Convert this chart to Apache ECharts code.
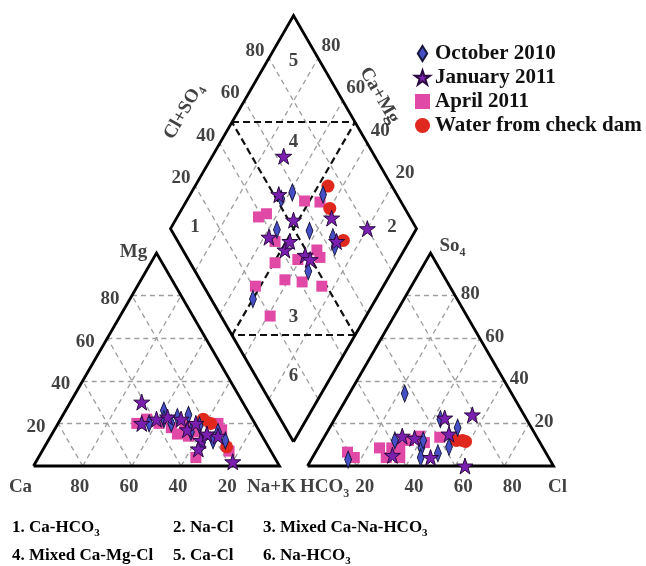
<!DOCTYPE html>
<html><head><meta charset="utf-8">
<script src="https://cdn.jsdelivr.net/npm/echarts/dist/echarts.min.js"></script>
<style>html,body{margin:0;padding:0;background:#fff}#c{width:646px;height:566px}</style>
</head><body><div id="c"></div>
<script>
// ---------------- DATA (percent values) ----------------
// Cation triangle: [Mg %, Na+K %]
const octoberCation = [[20,37],[26,40],[22,42],[23,47],[24,51],[16,56],[11,63],[12,67],[12,72],[19,58],[20,46],[16,67]];
const januaryCation = [[30,29],[20,34],[23,43],[22,49],[17,54],[20,56],[12,62],[8,63],[14,68],[2,80],[22,39],[15,63]];
const aprilCation   = [[20,32],[22,35],[18,47],[15,51],[14,56],[4,64],[20,65],[17,68],[7,76],[20,41],[16,58],[19,52]];
const damCation     = [[22,58],[20,62],[9,74]];
// Anion triangle: [SO4 %, Cl %]
const octoberAnion = [[34,22.5],[22,43],[18,52],[9,53],[6,50],[8.5,42],[4,44],[12,29.5],[3,15],[12,41]];
const januaryAnion = [[22.5,44.5],[24,55],[15,50],[14,31.5],[13,37],[5,32],[4,48],[0,64]];
const aprilAnion   = [[6.5,13],[4,17],[8.5,25],[4,30],[9,33],[4,35.5],[14,38.5],[11,42],[13.5,47],[12,35],[8.5,30]];
const damAnion     = [[12,54.5],[12,57],[11.5,58.5]];
// Diamond: [Cl+SO4 %, Ca+Mg %]
const octoberDiamond = [[52,62],[58,59],[70,46],[43,56.5],[56,43],[64,32],[62.5,29],[46,34],[17,50]];
const januaryDiamond = [[52,64],[63,71],[68,37],[52,52],[38,58],[80,20],[64.5,29.5],[41.5,48.5],[48.5,39],[49.5,36],[45.5,48.5]];
const aprilDiamond   = [[61,52],[67,45.5],[38.5,67],[42.5,64.5],[39.5,54.5],[54.5,35.5],[54,32.5],[44.5,41],[34.5,49.5],[34.5,41.5],[41,34],[48,25],[21,52],[20,39]];
const damDiamond     = [[74,46],[69.5,40],[67.5,27]];

const seriesNames = ['October 2010','January 2011','April 2011','Water from check dam'];
const tickValues = [20,40,60,80];
const regionNames = ['1','2','3','4','5','6'];
const regionCentres = [[10,90],[90,10],[29,29],[70,70],[89,89],[15,15]]; // [Cl+SO4, Ca+Mg]
const footnoteRow1 = ['1. Ca-HCO{s|3}','2. Na-Cl','3. Mixed Ca-Na-HCO{s|3}'];
const footnoteRow2 = ['4. Mixed Ca-Mg-Cl','5. Ca-Cl','6. Na-HCO{s|3}'];

// ---------------- GEOMETRY ----------------
const SIDE = 100, GAP = 11.4, H = Math.sqrt(3)/2;
const PXU = 2.46, OX = 33.5, OY = 466, W = 646, HH = 566;
function cat(mg, nak){ return [nak + mg/2, mg*H]; }
function an(so4, cl){ return [SIDE+GAP+cl+so4/2, so4*H]; }
const BX = SIDE + GAP/2, BY = GAP*H;
function dia(cs, cm){ return [BX + 0.5*(cs-cm), BY + H*(cs+cm)]; }

const FONT = 'Liberation Serif';
const gray = [], outline = [], blackDash = [];
tickValues.forEach(t => {
  gray.push({coords:[cat(t,0), cat(t,100-t)]});
  gray.push({coords:[cat(0,t), cat(100-t,t)]});
  gray.push({coords:[cat(0,100-t), cat(100-t,0)]});
  gray.push({coords:[an(t,0), an(t,100-t)]});
  gray.push({coords:[an(0,t), an(100-t,t)]});
  gray.push({coords:[an(0,100-t), an(100-t,0)]});
  gray.push({coords:[dia(t,0), dia(t,100)]});
  gray.push({coords:[dia(0,t), dia(100,t)]});
});
outline.push({coords:[cat(0,0), cat(0,100), cat(100,0), cat(0,0)]});
outline.push({coords:[an(0,0), an(0,100), an(100,0), an(0,0)]});
outline.push({coords:[dia(0,0), dia(100,0), dia(100,100), dia(0,100), dia(0,0)]});
blackDash.push({coords:[dia(50,100), dia(100,50)]});
blackDash.push({coords:[dia(50,0), dia(0,50)]});
blackDash.push({coords:[dia(50,0), dia(50,100)]});
blackDash.push({coords:[dia(0,50), dia(100,50)]});

function makeRich(size){
  return {
    m:{fontFamily:FONT,fontWeight:'bold',fontSize:size,lineHeight:size+3,verticalAlign:'top',color:'#111'},
    s:{fontFamily:FONT,fontWeight:'bold',fontSize:Math.round(size*0.63),lineHeight:9,verticalAlign:'bottom',color:'#111'}
  };
}
const rich = makeRich(19);
const richFoot = makeRich(17);
function txt(s){ // wrap plain parts into {m|...}
  return s.split(/(\{s\|[^}]*\})/).filter(p=>p).map(p => p.startsWith('{s|') ? p : '{m|'+p+'}').join('');
}
const labels = [];
function lab(pos, text, dx, dy, rot){
  let off = [dx, dy];
  if (rot) { // offset is applied in the rotated frame; convert the wanted screen offset
    const a = rot*Math.PI/180, c = Math.cos(a), s = Math.sin(a);
    off = [dx*c - dy*s, dx*s + dy*c];
  }
  labels.push({value:pos, name:text, label:{offset:off, rotate:rot||0}});
}
tickValues.forEach(t => {
  lab(cat(0,t), String(100-t), -3, 23);
  lab(cat(t,0), String(t), -22, 5);
  lab(an(0,t), String(t), 8, 23);
  lab(an(t,100-t), String(t), 15, 0);
  lab(dia(t,100), String(t), -14, -6);
  lab(dia(100,t), String(t), 13, -11);
});
lab(cat(0,0), 'Ca', -13, 23);
lab(cat(0,100), 'Na+K', -8, 23);
lab(cat(100,0), 'Mg', -23, 1);
lab(an(0,0), 'HCO{s|3}', 17, 23);
lab(an(0,100), 'Cl', 4, 23);
lab(an(100,0), 'So{s|4}', 22, -5);
lab(dia(50,100), 'Cl+SO{s|4}', -47, -10, 60);
lab(dia(100,50), 'Ca+Mg', 23, -26, -60);
regionNames.forEach((r,i) => lab(dia(regionCentres[i][0], regionCentres[i][1]), r, 0, 0));

const STAR = 'path://M50,0L61.8,35.1L98.9,35.1L69,57.3L80.3,92.7L50,70.6L19.7,92.7L31,57.3L1.1,35.1L38.2,35.1Z';
const DIAM = 'path://M5,0L10,8L5,16L0,8Z';
function pts(c, a, d){
  return c.map(v=>cat(v[0],v[1])).concat(a.map(v=>an(v[0],v[1]))).concat(d.map(v=>dia(v[0],v[1])));
}

const chart = echarts.init(document.getElementById('c'), null, {renderer:'canvas'});
const footGraphics = [];
const footX = [12, 173, 263];
[footnoteRow1, footnoteRow2].forEach((row, r) => {
  row.forEach((s, i) => footGraphics.push({type:'text', left: footX[i], top: 519 + r*28,
    style:{text: txt(s), rich: richFoot}}));
});

chart.setOption({
  animation:false,
  backgroundColor:'#fff',
  grid:{left:0,right:0,top:0,bottom:0},
  xAxis:{type:'value', min:-OX/PXU, max:(W-OX)/PXU, show:false},
  yAxis:{type:'value', min:-(HH-OY)/PXU, max:OY/PXU, show:false},
  legend:{
    orient:'vertical', left:409, top:38, itemWidth:15, itemHeight:15, itemGap:3,
    data: seriesNames,
    textStyle:{fontFamily:FONT, fontWeight:'bold', fontSize:21, color:'#111'}
  },
  graphic: footGraphics,
  series:[
    {type:'lines', coordinateSystem:'cartesian2d', silent:true, z:1,
     lineStyle:{color:'#9e9e9e', width:1.3, type:[5,4], opacity:1}, data: gray},
    {type:'lines', coordinateSystem:'cartesian2d', silent:true, z:2,
     lineStyle:{color:'#111', width:2.2, type:[7,4], opacity:1}, data: blackDash},
    {type:'lines', coordinateSystem:'cartesian2d', polyline:true, silent:true, z:3,
     lineStyle:{color:'#000', width:2.8, opacity:1, join:'miter'}, data: outline},
    {type:'scatter', name:'labels', silent:true, z:4, symbolSize:1,
     itemStyle:{color:'rgba(0,0,0,0)'},
     label:{show:true, position:'inside', formatter: p => txt(p.name), rich: rich, align:'center', verticalAlign:'middle'},
     data: labels},
    {type:'scatter', name:seriesNames[2], z:5, symbol:'rect', symbolSize:11,
     itemStyle:{color:'#e04aa6', opacity:1}, data: pts(aprilCation, aprilAnion, aprilDiamond)},
    {type:'scatter', name:seriesNames[3], z:5, symbol:'circle', symbolSize:13,
     itemStyle:{color:'#e0281e', opacity:1}, data: pts(damCation, damAnion, damDiamond)},
    {type:'scatter', name:seriesNames[0], z:5, symbol:DIAM, symbolSize:[11,17], symbolKeepAspect:true,
     itemStyle:{color:'#4650c6', borderColor:'#16163c', borderWidth:1, opacity:1}, data: pts(octoberCation, octoberAnion, octoberDiamond)},
    {type:'scatter', name:seriesNames[1], z:5, symbol:STAR, symbolSize:16,
     itemStyle:{color:'#7a1fb0', borderColor:'#2a0a40', borderWidth:1, opacity:1}, data: pts(januaryCation, januaryAnion, januaryDiamond)}
  ]
});
</script></body></html>
